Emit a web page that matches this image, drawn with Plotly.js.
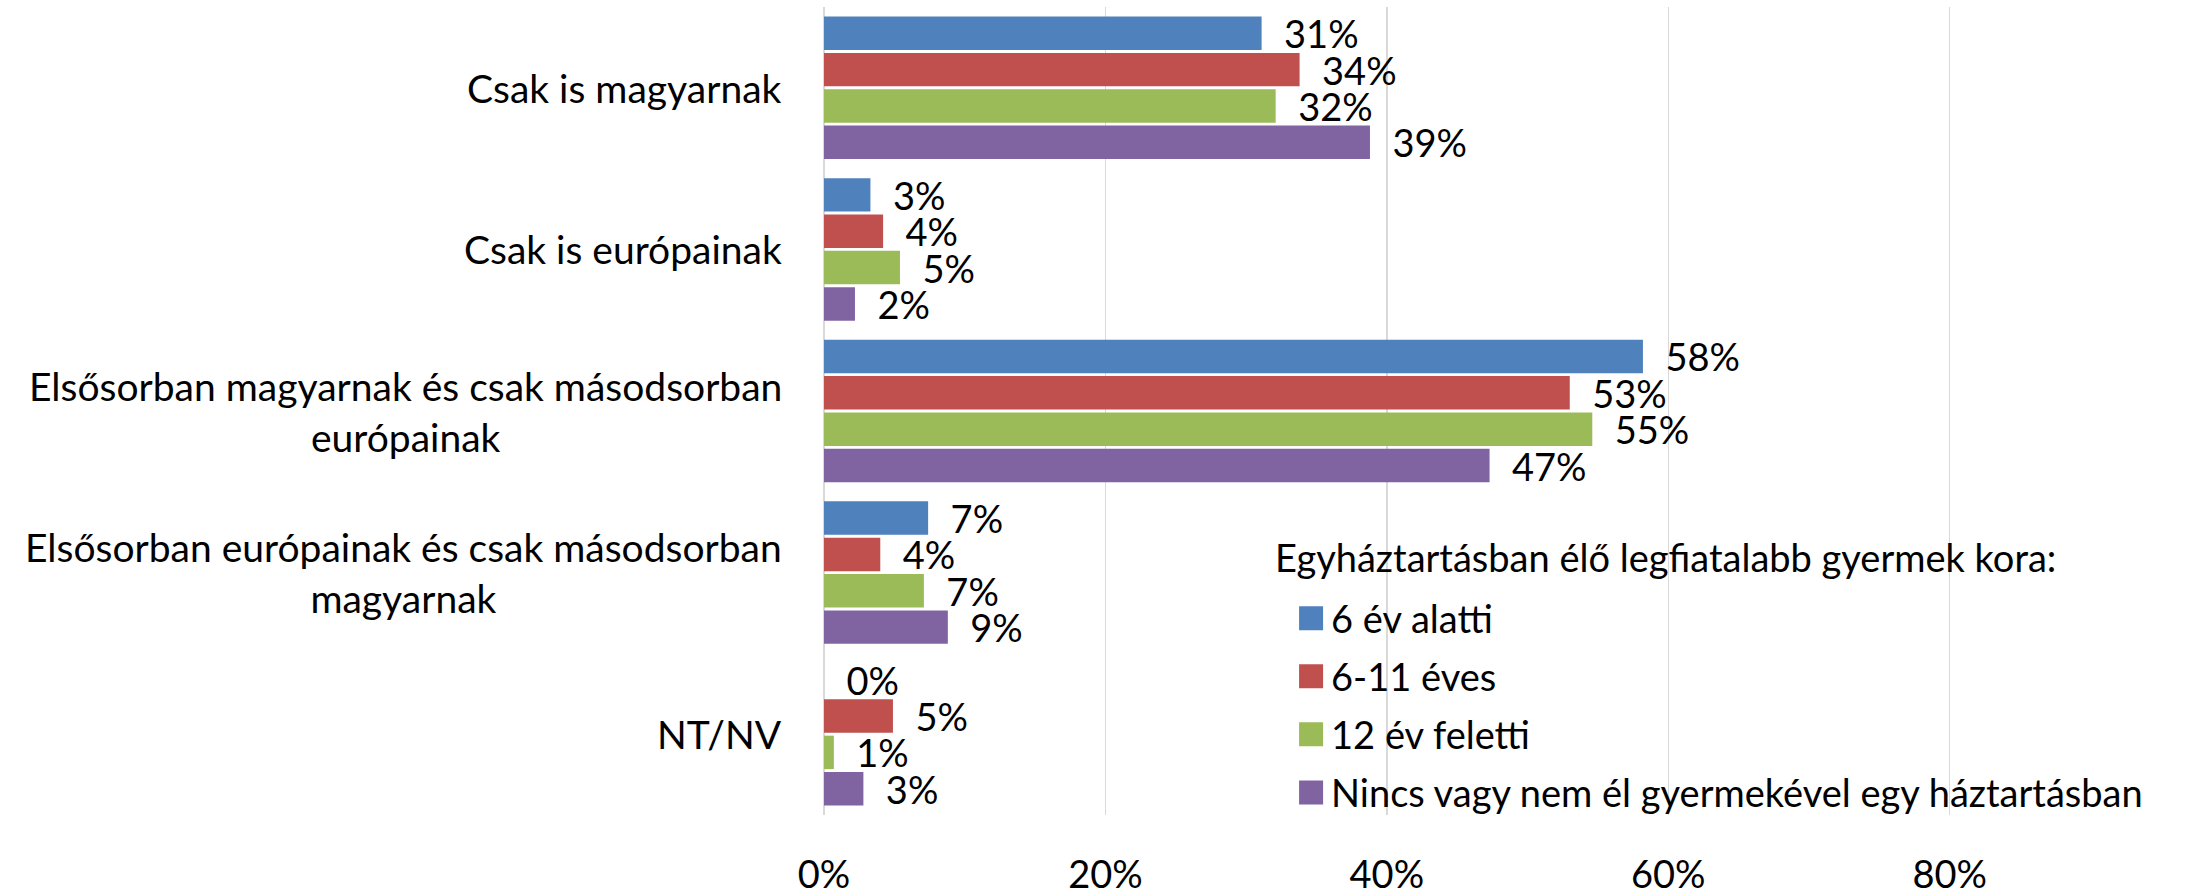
<!DOCTYPE html>
<html>
<head>
<meta charset="utf-8">
<script src="https://cdn.plot.ly/plotly-3.0.1.min.js"></script>
<style>
  html, body { margin: 0; padding: 0; background: #fff; }
  #chart { width: 2210px; height: 892px; }
</style>
</head>
<body>
<div id="chart"></div>
<script>
// Categories (top to bottom)
const categories = [
  "Csak is magyarnak",
  "Csak is európainak",
  "Elsősorban magyarnak és csak másodsorban<br>európainak",
  "Elsősorban európainak és csak másodsorban<br>magyarnak",
  "NT/NV"
];

// Series names
const seriesNames = [
  "6 év alatti",
  "6-11 éves",
  "12 év feletti",
  "Nincs vagy nem él gyermekével egy háztartásban"
];

// Series values (shares)
const under6     = [0.311, 0.033, 0.582, 0.074, 0.000];
const age6to11   = [0.338, 0.042, 0.530, 0.040, 0.049];
const over12     = [0.321, 0.054, 0.546, 0.071, 0.007];
const noChild    = [0.388, 0.022, 0.473, 0.088, 0.028];

const seriesValues = [under6, age6to11, over12, noChild];
const seriesColors = ["#4F81BD", "#C0504D", "#9BBB59", "#8064A2"];

const legendTitle = "Egyháztartásban élő legfiatalabb gyermek kora:";
const xTickVals = [0, 0.2, 0.4, 0.6, 0.8];
const xTickText = ["0%", "20%", "40%", "60%", "80%"];

const FONT = "Lato, 'Open Sans', sans-serif";
const FS = 38;

const legendIds = ["legend", "legend2", "legend3", "legend4"];

const traces = seriesValues.map((vals, i) => ({
  type: "bar",
  orientation: "h",
  name: seriesNames[i],
  legend: legendIds[i],
  y: categories,
  x: vals,
  marker: { color: seriesColors[i], line: { width: 0 } },
  texttemplate: "\u00a0\u00a0%{x:.0%}",
  textposition: "outside",
  constraintext: "none",
  cliponaxis: false,
  textfont: { family: FONT, size: FS, color: "#000" },
  hoverinfo: "skip"
}));

const annotations = categories.map(c => ({
  xref: "paper", yref: "y",
  x: 0, y: c,
  xanchor: "right", yanchor: "middle",
  xshift: -40,
  text: c,
  align: "center",
  showarrow: false,
  font: { family: FONT, size: 39, color: "#000" }
}));

// legend title as a text block above the legend entries
annotations.push({
  xref: "paper", yref: "paper",
  x: 0.324, y: 0.319,
  xanchor: "left", yanchor: "middle",
  text: legendTitle,
  showarrow: false,
  font: { family: FONT, size: FS, color: "#000" }
});

const layout = {
  width: 2210,
  height: 892,
  margin: { l: 824, r: 0, t: 7, b: 77, pad: 0 },
  paper_bgcolor: "#fff",
  plot_bgcolor: "#fff",
  font: { family: FONT, size: FS, color: "#000" },
  barmode: "group",
  bargap: 0.1,
  bargroupgap: 0.08,
  showlegend: true,
  xaxis: {
    range: [0, 0.985],
    tickvals: xTickVals,
    ticktext: xTickText,
    showgrid: true,
    gridcolor: "#D9D9D9",
    gridwidth: 1.5,
    zeroline: true,
    zerolinecolor: "#D9D9D9",
    zerolinewidth: 1.5,
    showline: false,
    ticks: "",
    ticklabelstandoff: 34,
    tickfont: { family: FONT, size: FS, color: "#000" },
    fixedrange: true
  },
  yaxis: {
    type: "category",
    autorange: "reversed",
    showticklabels: false,
    showgrid: false,
    zeroline: false,
    showline: false,
    ticks: "",
    fixedrange: true
  },
  annotations: annotations
};

// one legend box per series, stacked with Excel-like spacing
legendIds.forEach((id, i) => {
  layout[id] = {
    x: 0.337, xanchor: "left",
    y: 0.282 - i * 0.0718, yanchor: "top",
    bgcolor: "rgba(0,0,0,0)",
    font: { family: FONT, size: FS, color: "#000" }
  };
});

Plotly.newPlot("chart", traces, layout, { displayModeBar: false, staticPlot: true }).then(() => {
  document.querySelectorAll(".legendpoints path").forEach(p => {
    p.setAttribute("d", "M12,12H-12V-12H12Z");
    p.style.strokeWidth = "0px";
  });
});
</script>
</body>
</html>
